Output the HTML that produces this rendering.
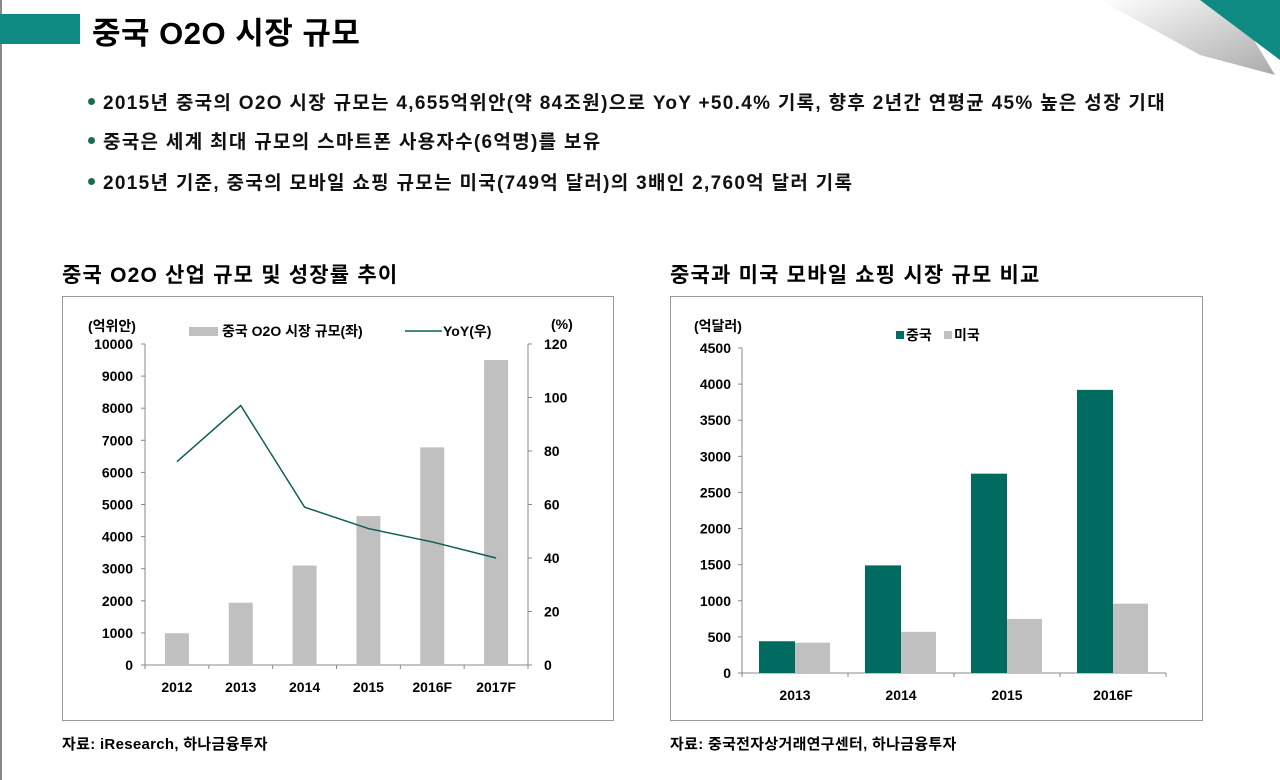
<!DOCTYPE html>
<html><head><meta charset="utf-8">
<style>
body{margin:0;width:1280px;height:780px;background:#fff;position:relative;overflow:hidden;font-family:"Liberation Sans","Noto Sans CJK KR",sans-serif;color:#000}
.abs{position:absolute}
.bul{position:absolute;left:88px;font-size:19px;font-weight:bold;white-space:nowrap;color:#111;letter-spacing:1.3px}
.bul:before{content:"";display:inline-block;width:7px;height:7px;border-radius:50%;background:#1a6b55;margin-right:8px;vertical-align:middle;position:relative;top:-2px}
svg text{font-family:"Liberation Sans","Noto Sans CJK KR",sans-serif;font-weight:bold}
</style></head><body>
<div class="abs" style="left:0;top:0;width:2px;height:780px;background:#888"></div>
<div class="abs" style="left:0;top:14px;width:80px;height:30px;background:#0e8a82"></div>
<div class="abs" style="left:92px;top:8px;font-size:31px;font-weight:bold;letter-spacing:0.5px">중국 O2O 시장 규모</div>
<svg class="abs" style="left:1080px;top:0" width="200" height="80">
<defs><linearGradient id="cg" x1="0" y1="0" x2="1" y2="1"><stop offset="0" stop-color="#fff"/><stop offset="1" stop-color="#aaa"/></linearGradient></defs>
<polygon points="20,0 150,0 195,75 120,55" fill="url(#cg)"/>
<polygon points="120,0 200,0 200,60" fill="#0e8a82"/>
</svg>
<div class="bul" style="top:88px">2015년 중국의 O2O 시장 규모는 4,655억위안(약 84조원)으로 YoY +50.4% 기록, 향후 2년간 연평균 45% 높은 성장 기대</div>
<div class="bul" style="top:127px">중국은 세계 최대 규모의 스마트폰 사용자수(6억명)를 보유</div>
<div class="bul" style="top:168px">2015년 기준, 중국의 모바일 쇼핑 규모는 미국(749억 달러)의 3배인 2,760억 달러 기록</div>
<div class="abs" style="left:62px;top:259px;font-size:21px;font-weight:bold;letter-spacing:1.2px">중국 O2O 산업 규모 및 성장률 추이</div>
<div class="abs" style="left:670px;top:259px;font-size:21px;font-weight:bold;letter-spacing:1.2px">중국과 미국 모바일 쇼핑 시장 규모 비교</div>
<div class="abs" style="left:62px;top:733px;font-size:15px;font-weight:bold;letter-spacing:0.3px">자료: iResearch, 하나금융투자</div>
<div class="abs" style="left:670px;top:733px;font-size:15px;font-weight:bold;letter-spacing:0.3px">자료: 중국전자상거래연구센터, 하나금융투자</div>
<svg id="c1" class="abs" style="left:0;top:0" width="640" height="780"></svg>
<svg id="c2" class="abs" style="left:0;top:0" width="1280" height="780"></svg>
<script>
const years1=["2012","2013","2014","2015","2016F","2017F"];
const marketSize=[990,1940,3100,4640,6780,9500];
const yoy=[76,97,59,51,46,40];
const leftTicks=[0,1000,2000,3000,4000,5000,6000,7000,8000,9000,10000];
const rightTicks=[0,20,40,60,80,100,120];
const years2=["2013","2014","2015","2016F"];
const china=[440,1490,2760,3920];
const usa=[420,570,749,960];
const ticks2=[0,500,1000,1500,2000,2500,3000,3500,4000,4500];
const NS="http://www.w3.org/2000/svg";
function mk(svg,t,a,txt){const e=document.createElementNS(NS,t);for(const k in a)e.setAttribute(k,a[k]);if(txt!==undefined)e.textContent=txt;svg.appendChild(e);return e;}
// chart 1
const s1=document.getElementById('c1');
let e=mk(s1,'rect',{x:62.5,y:296.5,width:551,height:424,fill:'none',stroke:'#999'});

const X0=145,X1=528,Y0=665,Y1=344;
const y1=v=>Y0-(v/10000)*(Y0-Y1), y2=v=>Y0-(v/120)*(Y0-Y1);
const bw=(X1-X0)/years1.length;
const cx=i=>X0+bw*(i+0.5);
mk(s1,'line',{x1:X0,y1:Y1,x2:X0,y2:Y0,stroke:'#888'});
mk(s1,'line',{x1:X1,y1:Y1,x2:X1,y2:Y0,stroke:'#888'});
mk(s1,'line',{x1:X0,y1:Y0,x2:X1,y2:Y0,stroke:'#888'});
leftTicks.forEach(v=>{mk(s1,'line',{x1:X0-4,y1:y1(v),x2:X0,y2:y1(v),stroke:'#888'});
e=mk(s1,'text',{x:X0-12,y:y1(v)+5,'text-anchor':'end','font-size':14},v);});
rightTicks.forEach(v=>{mk(s1,'line',{x1:X1,y1:y2(v),x2:X1+4,y2:y2(v),stroke:'#888'});
e=mk(s1,'text',{x:X1+16,y:y2(v)+5,'font-size':14},v);});
for(let i=0;i<=years1.length;i++)mk(s1,'line',{x1:X0+bw*i,y1:Y0,x2:X0+bw*i,y2:Y0+4,stroke:'#888'});
marketSize.forEach((v,i)=>{e=mk(s1,'rect',{x:cx(i)-12,y:y1(v),width:24,height:Y0-y1(v),fill:'#c0c0c0'});
});
years1.forEach((t,i)=>{e=mk(s1,'text',{x:cx(i),y:692,'text-anchor':'middle','font-size':14},t);});
e=mk(s1,'polyline',{points:yoy.map((v,i)=>cx(i)+','+y2(v)).join(' '),fill:'none',stroke:'#0d5e54','stroke-width':1.5});

e=mk(s1,'text',{x:88,y:331,'font-size':14},'(억위안)');
e=mk(s1,'text',{x:551,y:329,'font-size':14},'(%)');
mk(s1,'rect',{x:189,y:327,width:29,height:9,fill:'#c0c0c0'});
e=mk(s1,'text',{x:222,y:336,'font-size':14},'중국 O2O 시장 규모(좌)');
mk(s1,'line',{x1:405,y1:331,x2:442,y2:331,stroke:'#0d5e54','stroke-width':1.5});
e=mk(s1,'text',{x:443,y:336,'font-size':14},'YoY(우)');
// chart 2
const s2=document.getElementById('c2');
e=mk(s2,'rect',{x:670.5,y:296.5,width:532,height:424,fill:'none',stroke:'#999'});

const A0=742,A1=1166,B0=673,B1=348;
const yy=v=>B0-(v/4500)*(B0-B1);
const gw=(A1-A0)/years2.length;
mk(s2,'line',{x1:A0,y1:B1,x2:A0,y2:B0,stroke:'#888'});
mk(s2,'line',{x1:A0,y1:B0,x2:A1,y2:B0,stroke:'#888'});
ticks2.forEach(v=>{mk(s2,'line',{x1:A0-4,y1:yy(v),x2:A0,y2:yy(v),stroke:'#888'});
e=mk(s2,'text',{x:A0-11,y:yy(v)+5,'text-anchor':'end','font-size':14},v);});
for(let i=0;i<=years2.length;i++)mk(s2,'line',{x1:A0+gw*i,y1:B0,x2:A0+gw*i,y2:B0+4,stroke:'#888'});
years2.forEach((t,i)=>{const c=A0+gw*(i+0.5);
e=mk(s2,'rect',{x:c-36,y:yy(china[i]),width:36,height:B0-yy(china[i]),fill:'#006b60'});
e=mk(s2,'rect',{x:c,y:yy(usa[i]),width:35,height:B0-yy(usa[i]),fill:'#c0c0c0'});
e=mk(s2,'text',{x:c,y:700,'text-anchor':'middle','font-size':14},t);});
e=mk(s2,'text',{x:694,y:331,'font-size':14},'(억달러)');
mk(s2,'rect',{x:896,y:331,width:8,height:8,fill:'#006b60'});
e=mk(s2,'text',{x:906,y:340,'font-size':14},'중국');
mk(s2,'rect',{x:944,y:331,width:8,height:8,fill:'#c0c0c0'});
e=mk(s2,'text',{x:954,y:340,'font-size':14},'미국');
</script>
</body></html>
